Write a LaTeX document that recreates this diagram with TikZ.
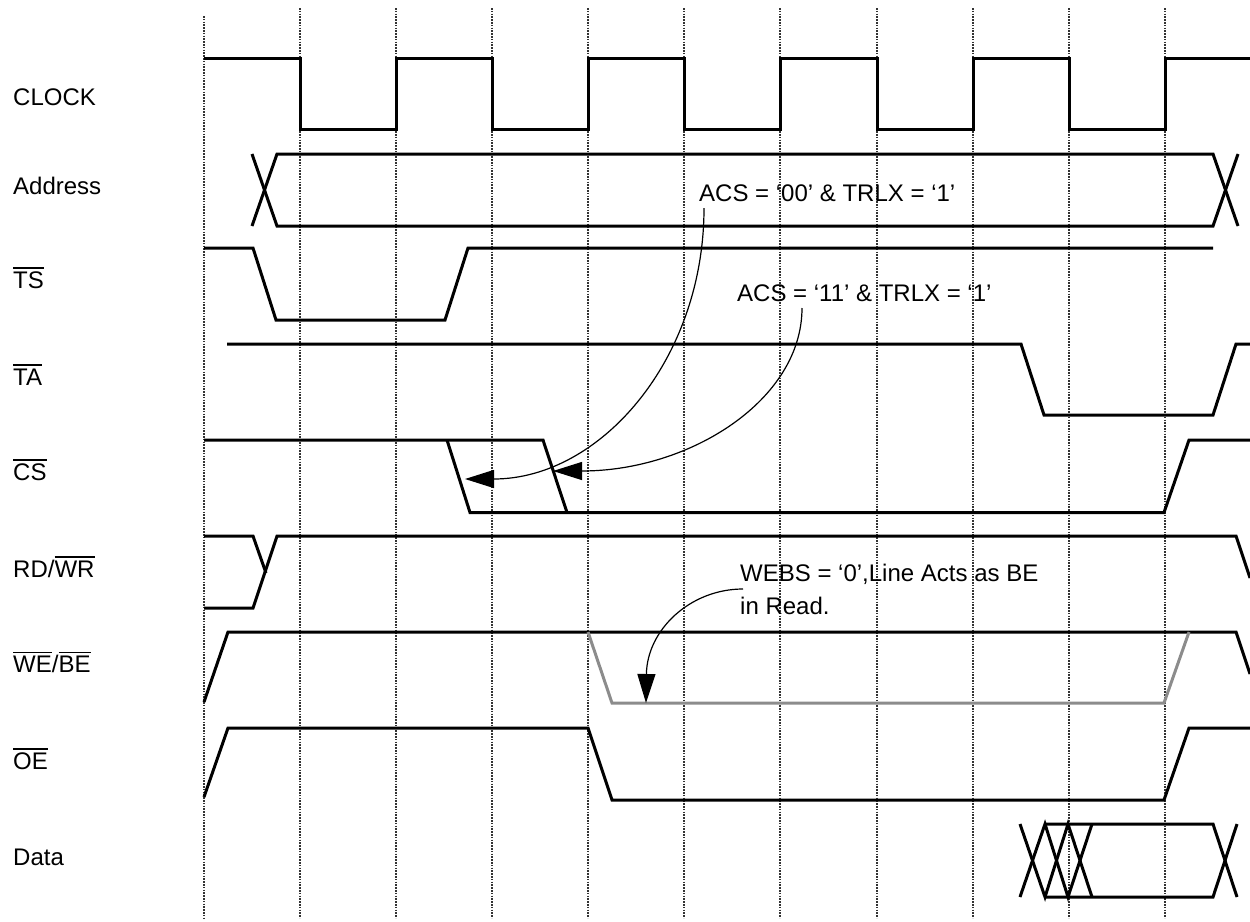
\documentclass[tikz,border=0pt]{standalone}
\usepackage{fontspec}
\setmainfont{Liberation Sans}
\usetikzlibrary{arrows.meta}
\newcommand\ovl[1]{\leavevmode\vbox{\hrule height 1.8pt\kern 2.6pt\hbox{#1}}}
\begin{document}
\begin{tikzpicture}[x=1pt,y=-1pt,
  sig/.style={line width=3pt, line join=miter, line cap=butt},
  graysig/.style={sig, draw=black!45},
  gridline/.style={line width=2pt, dash pattern=on 1.6pt off 1.2pt, black!80},
  lbl/.style={anchor=base west, inner sep=0pt, font=\fontsize{24}{28}\selectfont},
  callout/.style={line width=1.2pt, -{Triangle[length=29pt,width=18pt]}}]
\useasboundingbox (0,0) rectangle (1250,921);

% grid lines
\draw[gridline] (204,16) -- (204,918);
\foreach \x in {300,396,492,588,684,780,877,973,1069,1165}
  \draw[gridline] (\x,8) -- (\x,918);

% labels
\node[lbl] (lclk) at (13,105) {CLOCK};
\node[lbl] (ladr) at (13,194) {Address};
\node[lbl] (lts)  at (13,288.5) {\ovl{TS}};
\node[lbl] (lta)  at (13,385) {\ovl{TA}};
\node[lbl] (lcs)  at (13,480.5) {\ovl{CS}};
\node[lbl] (lrw)  at (13,577) {RD/\ovl{WR}};
\node[lbl] (lwe)  at (13,672.5) {\ovl{WE}/\ovl{BE}};
\node[lbl] (loe)  at (13,769) {\ovl{OE}};
\node[lbl] (ldat) at (13,865) {Data};

% CLOCK
\draw[sig] (204,58) -- (300,58) -- (300,129) -- (396,129) -- (396,58) -- (492,58)
  -- (492,129) -- (588,129) -- (588,58) -- (684,58) -- (684,129) -- (780,129)
  -- (780,58) -- (877,58) -- (877,129) -- (973,129) -- (973,58) -- (1069,58)
  -- (1069,129) -- (1165,129) -- (1165,58) -- (1250,58);

% Address
\draw[sig] (252,154) -- (277,226) -- (1213,226) -- (1238,154);
\draw[sig] (252,226) -- (277,154) -- (1213,154) -- (1238,226);

% TS
\draw[sig] (204,248) -- (253,248) -- (276,320) -- (445,320) -- (468,248) -- (1213,248);

% TA
\draw[sig] (227,344) -- (1021,344) -- (1044,415) -- (1213,415) -- (1236,344) -- (1250,344);

% CS
\draw[sig] (204,440) -- (543,440) -- (567,512.5);
\draw[sig] (447,440) -- (470,512.5) -- (1164,512.5) -- (1189,440) -- (1250,440);

% RD/WR
\draw[sig] (204,536) -- (253,536) -- (266,573);
\draw[sig] (204,608) -- (253,608) -- (277,536) -- (1236,536) -- (1250,578);

% WE/BE
\draw[sig] (204,702) -- (228,632) -- (1236,632) -- (1250,674);
\draw[graysig] (588,632) -- (612,703) -- (1164,703) -- (1189,632);

% OE
\draw[sig] (204,797) -- (228,728) -- (588,728) -- (612,800) -- (1164,800) -- (1189,728) -- (1250,728);

% Data
\draw[sig] (1020,824) -- (1045,897) -- (1068,824) -- (1092,897);
\draw[sig] (1020,897) -- (1045,824) -- (1068,897) -- (1092,824);
\draw[sig] (1045,824) -- (1213,824) -- (1237,897);
\draw[sig] (1045,897) -- (1213,897) -- (1237,824);

% annotations
\node[lbl] (n00) at (699,201.5) {ACS = ‘00’ \& TRLX = ‘1’};
\node[lbl] (n11) at (737,301.5) {ACS = ‘11’ \& TRLX = ‘1’};
\node[lbl] (nwe1) at (740,581.5) {WEBS = ‘0’,Line Acts as BE};
\node[lbl] (nwe2) at (740,614) {in Read.};

\coordinate (s00) at (704,208);
\coordinate (t00) at (465,479);
\coordinate (s11) at (802,308);
\coordinate (t11) at (553,471);
\coordinate (swe) at (743,589);
\coordinate (twe) at (646,703);

\draw[callout] (s00) .. controls (704,360) and (600,479) .. (t00);
\draw[callout] (s11) .. controls (802,400) and (690,471) .. (t11);
\draw[callout] (swe) .. controls (690,589) and (647,630) .. (twe);
\end{tikzpicture}
\end{document}
